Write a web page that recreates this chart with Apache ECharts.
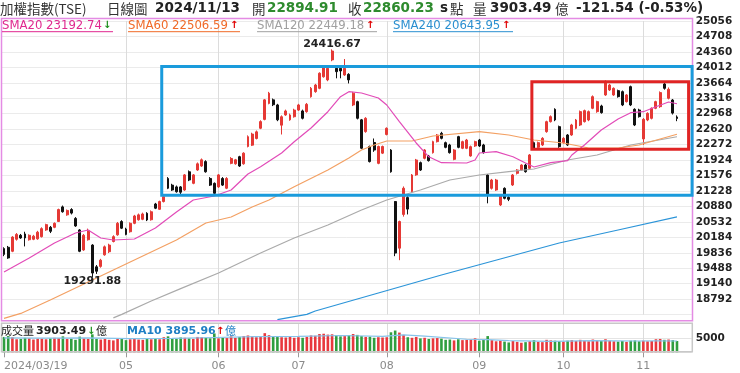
<!DOCTYPE html>
<html><head><meta charset="utf-8">
<script src="https://cdn.jsdelivr.net/npm/echarts@6/dist/echarts.min.js"></script>
<style>html,body{margin:0;padding:0;background:#fff}#c{width:740px;height:373px}</style>
</head><body><div id="c"></div>
<script>
// ---------- DATA ----------
const dates = [
'03/19','03/20','03/21','03/22','03/25','03/26','03/27','03/28','03/29',
'04/01','04/02','04/03','04/08','04/09','04/10','04/11','04/12','04/15','04/16','04/17','04/18','04/19','04/22','04/23','04/24','04/25','04/26','04/29','04/30',
'05/02','05/03','05/06','05/07','05/08','05/09','05/10','05/13','05/14','05/15','05/16','05/17','05/20','05/21','05/22','05/23','05/24','05/27','05/28','05/29','05/30','05/31',
'06/03','06/04','06/05','06/06','06/07','06/11','06/12','06/13','06/14','06/17','06/18','06/19','06/20','06/21','06/24','06/25','06/26','06/27','06/28',
'07/01','07/02','07/03','07/04','07/05','07/08','07/09','07/10','07/11','07/12','07/15','07/16','07/17','07/18','07/19','07/22','07/23','07/26','07/29','07/30','07/31',
'08/01','08/02','08/05','08/06','08/07','08/08','08/09','08/12','08/13','08/14','08/15','08/16','08/19','08/20','08/21','08/22','08/23','08/26','08/27','08/28','08/29','08/30',
'09/02','09/03','09/04','09/05','09/06','09/09','09/10','09/11','09/12','09/13','09/16','09/18','09/19','09/20','09/23','09/24','09/25','09/26','09/27','09/30',
'10/01','10/04','10/07','10/08','10/09','10/11','10/14','10/15','10/16','10/17','10/18','10/21','10/22','10/23','10/24','10/25','10/28','10/29','10/30',
'11/01','11/04','11/05','11/06','11/07','11/08','11/11','11/12','11/13'];
const year = '2024';

const opens = [
19930,19960,19870,20140,20230,20260,20130,20140,20150,
20200,20350,20410,20410,20540,20870,20690,20810,20610,20350,19900,20130,20010,19520,19530,19790,19860,20090,20240,20540,
20370,20310,20500,20580,20590,20725,20580,20935,20815,20990,21510,21360,21320,21320,21250,21660,21400,21700,21790,21890,21510,21400,
21320,21510,21290,21850,21840,22000,21840,22230,22260,22410,22640,22840,23200,23280,23165,22710,22940,22830,22900,
23050,23030,23015,23350,23465,23540,23800,23730,24180,23990,23990,23840,23855,23165,23240,22830,22565,22230,22320,21850,22080,
22500,22150,20990,19940,20700,21080,21213,21590,21866,21964,22016,22091,22339,22527,22316,22264,21941,22452,22189,22189,22016,22241,
22376,22264,21588,21288,21250,20913,21288,21085,21363,21626,21701,21813,21738,22316,22211,22264,22564,22789,23067,22677,
22316,22489,22489,22639,22714,22789,22827,23090,23015,23142,23390,23503,23390,23488,23465,23240,23578,23067,23052,
22400,22827,22864,23090,23127,23638,23315,23277,22894.91];
const closes = [
19800,19720,20190,20250,20170,20170,20230,20210,20300,
20380,20470,20320,20500,20810,20760,20790,20730,20440,19870,20230,20340,19380,19420,19670,19970,20010,20200,20500,20390,
20250,20500,20665,20690,20710,20575,20760,20840,20990,21100,21290,21250,21210,21200,21590,21475,21590,21840,21930,21660,21360,21175,
21590,21360,21510,21960,21930,21790,22080,22450,22510,22560,22790,23280,23430,23170,22830,22900,23030,22940,23050,
23165,22865,23180,23540,23615,23880,24030,23990,24380,23915,23930,23990,23730,23430,22865,22190,22865,21890,22150,22230,22230,
22640,21660,19830,20540,21290,20820,21588,21926,21700,22151,21911,22339,22489,22414,22211,22091,22151,22211,22339,22376,22226,22339,
22241,22091,21138,21475,21475,21138,21063,21040,21588,21701,21813,21663,22039,22189,22316,22414,22789,22902,22827,22226,
22414,22264,22714,22827,23015,23037,23015,23352,23240,22992,23690,23615,23540,23352,23165,23390,23165,22714,22902,
22842,22977,23090,23240,23443,23540,23518,22981.77,22860.23];
const lows = [
19760,19700,19850,20110,20150,19980,20110,20120,20130,
20180,20330,20280,20390,20530,20740,20670,20700,20420,19850,19880,20110,19291.88,19360,19500,19770,19830,20070,20220,20370,
20230,20290,20480,20560,20570,20550,20560,20820,20800,20970,21270,21230,21190,21140,21230,21450,21380,21680,21770,21640,21340,21150,
21300,21340,21270,21830,21820,21770,21820,22210,22240,22390,22620,22820,23180,23140,22800,22500,22920,22810,22880,
23030,22840,22990,23330,23440,23520,23780,23700,24150,23765,23765,23820,23650,23140,22840,22170,22540,21870,22110,21830,22060,
22480,21640,19760,19670,20650,20700,21190,21570,21680,21940,21890,22070,22320,22390,22190,22070,21920,22190,22170,22170,22000,22220,
22220,22070,20950,21260,21230,20890,21040,21000,21340,21600,21680,21640,21720,22170,22190,22240,22540,22770,22800,22200,
22290,22240,22470,22620,22690,22770,22800,23070,22990,22970,23370,23480,23370,23330,23140,23220,23140,22690,22880,
22264,22800,22840,23070,23100,23510,23290,22950,22800];
const highs = [
19960,19990,20210,20280,20260,20310,20250,20240,20330,
20410,20490,20440,20520,20830,20900,20810,20840,20640,20370,20260,20380,20030,19560,19700,20000,20040,20230,20530,20570,
20400,20520,20690,20720,20740,20750,20790,20960,21010,21120,21540,21390,21350,21340,21610,21690,21610,21870,21960,21920,21540,21420,
21610,21540,21540,21990,21950,22020,22100,22480,22540,22590,22820,23300,23460,23310,23190,22930,23060,22970,23080,
23190,23060,23210,23570,23640,23900,24060,24020,24416.67,24030,24010,24200,23880,23460,23260,22850,22890,22250,22410,22250,22250,
22660,22170,21000,20560,21330,21110,21610,21950,21890,22170,22040,22360,22510,22560,22340,22290,22170,22470,22360,22400,22250,22360,
22400,22290,21610,21500,21500,21160,21310,21110,21610,21720,21830,21840,22060,22340,22340,22440,22810,22930,23090,22700,
22440,22510,22740,22850,23040,23060,23040,23380,23260,23170,23720,23640,23560,23510,23490,23410,23600,23090,23080,
22870,23000,23110,23260,23470,23700,23560,23300,22930];
const volumes = [
5300,5600,5200,4500,4600,5000,4800,4400,4700,
4700,4500,4800,5000,4900,5500,4600,4700,4300,5400,4800,4600,6200,4600,4400,4700,4300,4100,4900,4700,
4200,4500,4600,4400,4300,4600,4500,4700,4500,5200,5500,4900,4700,5100,5000,4800,4600,5300,5200,5000,4800,6500,
4800,5000,4900,5500,5000,5300,5600,5800,5500,5200,5500,6600,5900,5600,5400,5200,5100,5300,5000,
5200,5000,5300,5800,5700,6300,6400,6100,6200,5900,5500,5600,5900,6300,6000,5600,5300,5400,5000,5200,5100,
5200,6900,7500,6800,6000,5200,5000,5300,4800,5000,4600,4800,4900,4700,4300,4400,4100,4500,4200,4300,4400,4800,
4000,4300,5600,4200,3800,4000,3700,3400,3900,3600,3300,3500,3800,4200,3600,3500,4300,4100,4000,3900,
3700,4000,4200,3900,4300,4000,3800,4400,4100,3900,4500,4000,3800,3700,3900,3600,4000,4100,3800,
4000,3800,3900,4500,4600,4300,4400,4200,3903.49];
// moving averages at sample candles: [candle index, value]
const sma20 = [[0,19404],[6,19719],[12,20057],[17,20282],[20,20349],[23,20169],[26,20124],[31,20147],[36,20394],[41,20755],[45,21025],[50,21115],[54,21250],[58,21610],[61,21775],[66,22083],[69,22338],[73,22646],[77,23013],[80,23351],[82,23464],[85,23435],[89,23322],[91,23164],[94,22788],[98,22309],[101,21998],[104,21865],[110,21858],[112,21926],[113,22083],[117,22113],[121,21998],[124,21858],[126,21768],[130,21865],[134,21910],[135,22038],[138,22264],[142,22601],[146,22849],[149,22991],[152,23013],[155,23126],[158,23232],[160,23192.74]];
const sma60 = [[0,18360],[4,18470],[11,18773],[30,19629],[41,20124],[48,20507],[54,20642],[59,20867],[63,21025],[69,21324],[77,21701],[82,21971],[85,22151],[88,22264],[91,22354],[97,22354],[102,22466],[113,22563],[120,22489],[126,22376],[133,22309],[139,22196],[146,22196],[151,22264],[156,22399],[160,22506.59]];
const sma120 = [[26,18370],[28,18450],[35,18750],[42,19030],[51,19381],[61,19831],[69,20169],[77,20462],[85,20800],[91,21025],[99,21250],[106,21475],[113,21588],[120,21662],[126,21723],[134,21926],[141,22038],[149,22264],[160,22449.18]];
const sma240 = [[65,18330],[72,18450],[74,18525],[89,18931],[104,19336],[118,19696],[132,20057],[146,20350],[160,20643.95]];
const volMA10 = [[0,5000],[10,4900],[20,4950],[30,4700],[40,4800],[50,5100],[60,5400],[70,5500],[80,5800],[90,5500],[95,6000],[100,5600],[110,4500],[115,4400],[120,4000],[130,3800],[140,4000],[150,3900],[155,3950],[160,3895.96]];
const priceMin = 18444, priceMax = 25056, priceStep = 348;
const volMax = 10000, volStep = 5000;
const peak = ['07/11', 24416.67], trough = ['04/19', 19291.88];
const blueBox = {from: [37, 38], top: 24030, bottom: 21130};
const redBox  = {from: [125, 126], top: 23690, bottom: 22170};

// ---------- CHART ----------
const chart = echarts.init(document.getElementById('c'));
const N = dates.length;
const cats = dates.concat(['', '', '']);
// month boundaries; the first partial month is covered by the full start-date label
const isMonthStart = i => i < N && (i === 0 || (i > 12 && dates[i].slice(0, 2) !== dates[i - 1].slice(0, 2)));
const candle = dates.map((d, i) => [opens[i], closes[i], lows[i], highs[i]]);
const UP = '#e53935', DOWN = '#111', VUP = '#e8383d', VDN = '#2f9e3f';
const volData = volumes.map((v, i) => ({value: v, itemStyle: {color: closes[i] >= opens[i] ? VUP : VDN}}));
const gridL = 1.9, gridW = 689.8;
const FONT = 'DejaVu Sans', CJK = 'Noto Sans CJK TC';
const vSplit = {show: true, alignWithLabel: true, interval: i => isMonthStart(i) && i > 0, lineStyle: {color: '#dcdcdc', width: 1}};
const maLine = (data, color, xi) => ({type: 'line', data, xAxisIndex: xi || 0, yAxisIndex: xi || 0, showSymbol: false, symbol: 'none', silent: true,
  clip: false, lineStyle: {color, width: 1.2}, z: 4});

const option = {
  animation: false,
  backgroundColor: '#fff',
  textStyle: {fontFamily: FONT},
  grid: [{left: gridL, width: gridW, top: 21, height: 293.6},
         {left: gridL, width: gridW, top: 323.3, height: 29}],
  xAxis: [
    {type: 'category', gridIndex: 0, data: cats, boundaryGap: true, axisLine: {show: false}, axisTick: {show: false},
     axisLabel: {show: false}, splitLine: vSplit},
    {type: 'category', gridIndex: 1, data: cats, boundaryGap: true, axisLine: {show: false},
     axisTick: {show: true, alignWithLabel: true, interval: i => isMonthStart(i), length: 5, lineStyle: {color: '#999'}},
     axisLabel: {show: true, interval: i => isMonthStart(i), formatter: (v, i) => i === 0 ? year + '/' + v : v.slice(0, 2),
       color: '#8a8a8a', fontSize: 11, margin: 8, alignMinLabel: 'left', fontFamily: FONT},
     splitLine: vSplit}
  ],
  yAxis: [
    {type: 'value', gridIndex: 0, position: 'right', min: priceMin, max: priceMax, interval: priceStep,
     axisLine: {show: false}, axisTick: {show: false},
     axisLabel: {showMinLabel: false, margin: 4, color: '#222', fontWeight: 'bold', fontSize: 10.5, fontFamily: FONT, formatter: v => String(v)},
     splitLine: {lineStyle: {color: '#ebebeb'}}},
    {type: 'value', gridIndex: 1, position: 'right', min: 0, max: volMax, interval: volStep,
     axisLine: {show: false}, axisTick: {show: false},
     axisLabel: {margin: 4, color: '#222', fontWeight: 'bold', fontSize: 10.5, fontFamily: FONT, formatter: v => v === 5000 ? '5000' : ''},
     splitLine: {lineStyle: {color: '#e4e4e4'}}}
  ],
  series: [
    {type: 'candlestick', xAxisIndex: 0, yAxisIndex: 0, data: candle, barWidth: 2.4, z: 3,
     itemStyle: {color: UP, color0: DOWN, borderColor: UP, borderColor0: DOWN, borderWidth: 1},
     markPoint: {symbol: 'circle', symbolSize: 1, itemStyle: {color: 'rgba(0,0,0,0)'}, silent: true,
       label: {show: true, formatter: p => p.value.toFixed(2), fontFamily: FONT, fontWeight: 'bold', fontSize: 11, color: '#222'},
       data: [
         {coord: peak, value: peak[1], label: {position: 'top', distance: 1, offset: [0, 2]}},
         {coord: trough, value: trough[1], label: {position: 'bottom', distance: 1, offset: [0, -3]}}
       ]}},
    maLine(sma240, '#2b94d8'),
    maLine(sma120, '#aaaaaa'),
    maLine(sma60, '#f3a063'),
    maLine(sma20, '#e24bb8'),
    {type: 'bar', xAxisIndex: 1, yAxisIndex: 1, data: volData, barWidth: 2.6, z: 2},
    maLine(volMA10, '#86c3ea', 1)
  ]
};
chart.setOption(option);

// ---------- annotations (placed through the chart's own scales) ----------
const P = (i, v) => chart.convertToPixel({seriesIndex: 0}, [i, v]);
const bandEdge = (a, b) => (P(a, priceMin)[0] + P(b, priceMin)[0]) / 2;
const rightEdge = P(N + 2, priceMin)[0];
function box(b, color, extra) {
  const x = bandEdge(b.from[0], b.from[1]);
  const y1 = P(0, b.top)[1], y2 = P(0, b.bottom)[1];
  return {type: 'rect', z: 100, silent: true, shape: {x, y: y1, width: rightEdge + extra - x, height: y2 - y1},
    style: {fill: 'none', stroke: color, lineWidth: 3}};
}
function T(x, y, text, font, fill) {
  return {type: 'text', x, y, z: 110, silent: true, style: {text, font, fill, verticalAlign: 'middle', textVerticalAlign: 'middle'}};
}
function U(x1, x2, y, color) {
  return {type: 'line', z: 110, silent: true, shape: {x1, y1: y, x2, y2: y}, style: {stroke: color, lineWidth: 1}};
}
const hC = '13.5px "' + CJK + '"', hB = 'bold 13.5px "' + FONT + '"';
const G = '#2e8b2e', RED = '#e00000', GRN = '#1a8f1a';
const lg = '11.7px "' + FONT + '"', ar = 'bold 10px "' + FONT + '"';
const graphics = [
  {type: 'rect', z: 90, silent: true, shape: {x: 1.5, y: 18.5, width: 691, height: 302.2}, style: {fill: 'none', stroke: '#e48be4', lineWidth: 1.5}},
  {type: 'rect', z: 90, silent: true, shape: {x: 1.5, y: 323.3, width: 690.8, height: 28.5}, style: {fill: 'none', stroke: '#c8c8c8', lineWidth: 1.5}},
  box(blueBox, '#1a9bdc', 2.5),
  box(redBox, '#e02424', -1),
  T(0, 8.5, '加權指數(TSE)', hC, '#333'),
  T(107, 8.5, '日線圖', hC, '#333'),
  T(155, 8.5, '2024/11/13', hB, '#222'),
  T(252, 8.5, '開', hC, '#333'),
  T(267, 8.5, '22894.91', hB, G),
  T(348, 8.5, '收', hC, '#333'),
  T(363, 8.5, '22860.23', hB, G),
  T(440, 8.5, 's', hB, '#222'),
  T(450, 8.5, '點', hC, '#333'),
  T(473, 8.5, '量', hC, '#333'),
  T(490, 8.5, '3903.49', hB, '#222'),
  T(555, 8.5, '億', hC, '#333'),
  T(576, 8.5, '-121.54 (-0.53%)', hB, '#222'),
  T(2, 25.5, 'SMA20 23192.74', lg, '#e0288f'), T(103, 25.5, '↓', ar, GRN), U(2, 113, 31.7, '#e0288f'),
  T(128, 25.5, 'SMA60 22506.59', lg, '#f06a28'), T(230, 25.5, '↑', ar, RED), U(128, 240, 31.7, '#f06a28'),
  T(257, 25.5, 'SMA120 22449.18', lg, '#a0a0a0'), T(366, 25.5, '↑', ar, RED), U(257, 377, 31.7, '#a0a0a0'),
  T(393, 25.5, 'SMA240 20643.95', lg, '#2a8fd0'), T(502, 25.5, '↑', ar, RED), U(393, 513, 31.7, '#2a8fd0'),
  T(1, 331, '成交量', '11px "' + CJK + '"', '#222'),
  T(36, 331, '3903.49', 'bold 11px "' + FONT + '"', '#222'),
  T(87, 331, '↓', ar, GRN),
  T(96, 331, '億', '11px "' + CJK + '"', '#222'),
  T(127, 331, 'MA10 3895.96', 'bold 11px "' + FONT + '"', '#1f7fc4'),
  T(216, 331, '↑', ar, RED),
  T(225, 331, '億', '11px "' + CJK + '"', '#1f7fc4')
];
chart.setOption({graphic: graphics});
</script>
</body></html>
